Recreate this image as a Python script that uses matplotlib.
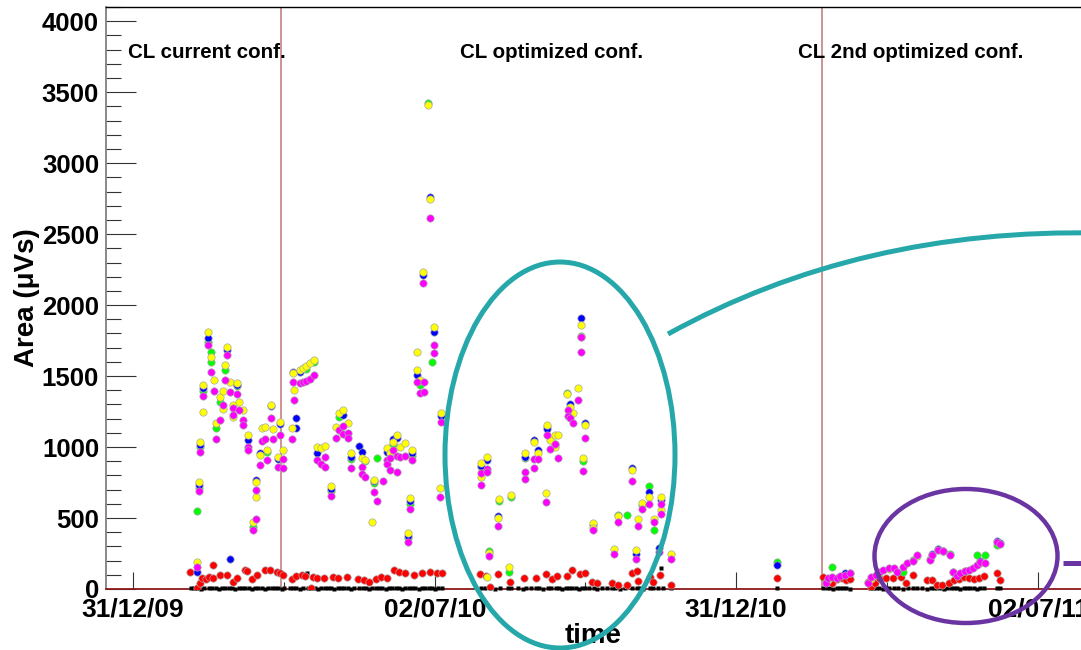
import matplotlib

matplotlib.use("Agg")

import matplotlib.pyplot as plt
from matplotlib.patches import Ellipse, PathPatch
from matplotlib.path import Path
from matplotlib.ticker import FixedLocator, MultipleLocator
from matplotlib.transforms import Affine2D

W_PX, H_PX, DPI = 1081, 650, 100

# time axis: days after 31/12/09
TICK_DAYS = [0, 183, 365, 548]
TICK_LABELS = ["31/12/09", "02/07/10", "31/12/10", "02/07/11"]
MINOR_TICK_DAYS = [91.5, 274, 456.5]
CONF_CHANGE_DAYS = [89.6, 417.1]
CONF_LABELS = ["CL current conf.", "CL optimized conf.", "CL 2nd optimized conf."]

# (day, area in uVs)
YELLOW = [
    (38.7, 190), (39.9, 754), (40.6, 1035), (42.5, 1437), (42.5, 1247), (45.4, 1810),
    (47.2, 1634), (48.8, 1472), (50.2, 1169), (52.7, 1352), (54.5, 1394), (54.5, 1268),
    (55.7, 1577), (56.9, 1704), (58.7, 1458), (60.5, 1296), (60.5, 1211), (63.0, 1451),
    (64.2, 1317), (66.6, 1261), (69.6, 1085), (72.6, 472), (74.5, 754), (74.5, 648),
    (76.9, 944), (78.1, 1134), (80.0, 1140), (81.1, 979), (83.5, 1296), (84.7, 1127),
    (87.8, 930), (89.0, 1176), (90.8, 979),
    (96.2, 1134), (97.0, 1521), (97.5, 1401), (101.0, 1542), (103.0, 1556), (105.0, 1570),
    (107.0, 1590), (109.5, 1612), (111.5, 1000), (114.0, 993), (116.5, 1007), (119.9, 725),
    (123.0, 1141), (125.0, 1240), (127.0, 1260), (130.0, 1169), (132.0, 958), (138.6, 923),
    (140.4, 908), (144.5, 472), (146.0, 770), (153.8, 993), (155.6, 960), (157.4, 1035),
    (159.8, 1085), (161.6, 1000), (164.6, 1028), (166.5, 394), (167.7, 641), (168.9, 979),
    (171.9, 1669), (171.9, 1542), (173.7, 1472), (175.5, 2232), (178.6, 3408), (179.8, 2746),
    (182.2, 1845), (185.8, 711), (186.4, 1239),
    (210.7, 887), (210.7, 789), (214.3, 930), (214.3, 85), (215.5, 254), (220.9, 500),
    (221.5, 634), (228.8, 662), (227.6, 155), (237.3, 958), (242.7, 1035), (245.2, 958),
    (250.0, 676), (250.6, 1155), (252.4, 1049), (255.4, 1085), (255.4, 1000), (257.3, 1085),
    (262.7, 1373), (264.5, 1282), (266.3, 1239), (269.4, 1415), (271.2, 1859), (271.2, 1775),
    (272.4, 923), (273.6, 1155), (278.5, 465), (278.5, 430), (291.2, 282), (293.6, 514),
    (302.1, 838), (304.5, 275), (305.7, 493), (308.1, 606), (312.3, 648), (315.4, 493),
    (319.6, 648), (319.6, 560), (325.7, 246),
    (421.0, 60), (447.0, 70), (452.0, 110), (458.0, 140), (474.6, 230), (482.4, 210),
    (490.3, 270), (504.0, 130), (513.0, 180),
]

BLUE = [
    (38.7, 120), (39.9, 732), (40.6, 1015), (42.5, 1413), (45.4, 1770), (56.9, 1683),
    (58.7, 211), (63.0, 1437), (69.6, 1050), (74.5, 770), (76.9, 955), (83.5, 1290),
    (87.8, 915), (89.0, 1165),
    (97.0, 1530), (98.5, 1204), (98.5, 1134), (101.0, 1530), (111.5, 958), (119.9, 705),
    (127.0, 1225), (132.0, 930), (136.8, 1007), (138.6, 965), (146.0, 760), (153.8, 965),
    (157.4, 1060), (159.8, 1063), (166.5, 370), (167.7, 620), (168.9, 958), (171.9, 1510),
    (175.5, 2211), (179.8, 2760), (182.2, 1810), (186.4, 1220),
    (210.7, 870), (214.3, 910), (220.9, 514), (237.3, 930), (242.7, 1049), (245.2, 980),
    (250.6, 1130), (264.5, 1300), (271.2, 1908), (273.6, 1170), (278.5, 450), (302.1, 855),
    (304.5, 250), (312.3, 683), (318.4, 289), (319.6, 630),
    (389.8, 169), (419.5, 50), (431.0, 110), (484.0, 250), (487.3, 285), (490.3, 270),
    (513.0, 200), (523.0, 335), (524.8, 325),
]

GREEN = [
    (38.7, 549), (39.9, 711), (40.6, 1000), (42.5, 1394), (45.4, 1740), (47.2, 1669),
    (47.2, 1599), (50.2, 1134), (52.7, 1320), (55.7, 1542), (63.0, 1430), (72.6, 437),
    (81.1, 965),
    (105.0, 1550), (109.5, 1598), (119.9, 690), (125.0, 1210), (132.0, 915), (140.4, 900),
    (146.0, 750), (147.7, 923), (157.4, 1020), (166.5, 360), (167.7, 600), (168.9, 940),
    (173.7, 1440), (178.6, 3422), (181.0, 1599),
    (210.7, 860), (215.5, 270), (221.5, 620), (227.6, 120), (228.8, 650), (237.3, 920),
    (250.6, 1140), (255.4, 1020), (262.7, 1380), (271.2, 1780), (272.4, 905), (293.6, 520),
    (299.0, 521), (308.1, 590), (312.3, 725), (315.4, 415),
    (389.8, 190), (423.0, 155), (434.0, 115), (466.0, 120), (472.0, 204), (487.3, 280),
    (494.6, 245), (496.4, 120), (511.0, 239), (515.7, 239), (523.0, 310),
]

MAGENTA = [
    (38.7, 155), (39.9, 690), (40.6, 965), (42.5, 1359), (45.4, 1718), (47.2, 1528),
    (48.8, 1394), (50.2, 1056), (52.7, 1190), (54.5, 1296), (55.7, 1472), (56.9, 1648),
    (58.7, 1387), (60.5, 1275), (60.5, 1225), (63.0, 1373), (64.2, 1261), (66.6, 1190),
    (66.6, 1155), (69.6, 1000), (69.6, 979), (72.6, 415), (74.5, 697), (74.5, 493),
    (76.9, 873), (78.1, 1042), (80.0, 1060), (81.1, 908), (83.5, 1204), (84.7, 1056),
    (87.8, 859), (89.0, 1085), (90.8, 915), (90.8, 852),
    (96.2, 1056), (97.0, 1458), (97.5, 1331), (101.0, 1451), (103.0, 1458), (105.0, 1465),
    (107.0, 1480), (109.5, 1507), (111.5, 908), (114.0, 880), (116.5, 930), (116.5, 859),
    (119.9, 655), (123.0, 1063), (125.0, 1120), (127.0, 1150), (127.0, 1090), (130.0, 1099),
    (130.0, 1063), (132.0, 852), (138.6, 859), (138.6, 810), (140.4, 789), (146.0, 683),
    (147.7, 620), (151.3, 761), (153.8, 908), (153.8, 880), (155.6, 920), (155.6, 838),
    (157.4, 979), (159.8, 940), (159.8, 824), (161.6, 930), (164.6, 937), (166.5, 331),
    (167.7, 563), (168.9, 908), (171.9, 1458), (173.7, 1380), (175.5, 2155), (176.0, 1458),
    (176.0, 1387), (179.8, 2613), (182.2, 1718), (182.2, 1662), (185.8, 648), (186.4, 1176),
    (210.7, 817), (210.7, 732), (214.3, 845), (214.3, 824), (215.5, 232), (220.9, 444),
    (237.3, 824), (237.3, 775), (242.7, 915), (242.7, 852), (245.2, 915), (250.0, 613),
    (250.6, 1085), (252.4, 986), (255.4, 1021), (257.3, 923), (263.3, 1261), (263.3, 1220),
    (264.5, 1204), (266.3, 1169), (269.4, 1331), (271.2, 1775), (271.2, 1669), (272.4, 831),
    (273.6, 1063), (278.5, 415), (291.2, 246), (293.6, 472), (302.1, 761), (304.5, 211),
    (305.7, 444), (308.1, 563), (312.3, 599), (315.4, 470), (318.4, 260), (319.6, 599),
    (319.6, 530), (325.7, 211),
    (419.5, 40), (421.0, 75), (423.0, 85), (426.0, 77), (428.0, 95), (431.0, 100),
    (434.0, 113), (445.0, 40), (447.0, 85), (450.0, 100), (452.0, 120), (454.0, 134),
    (458.0, 150), (461.0, 148), (462.5, 120), (466.0, 155), (468.5, 183), (472.0, 200),
    (474.6, 239), (482.4, 204), (484.0, 240), (487.3, 275), (490.3, 265), (494.6, 239),
    (496.4, 120), (499.0, 95), (501.0, 110), (503.6, 125), (506.0, 135), (508.5, 148),
    (511.0, 170), (513.0, 190), (515.7, 185), (523.0, 331), (524.8, 320),
]

RED = [
    (34.5, 120), (38.7, 7), (40.6, 42), (42.0, 77), (44.0, 70), (46.0, 84), (48.4, 169),
    (48.4, 77), (52.7, 99), (56.9, 99), (60.5, 49), (63.0, 77), (67.8, 134), (69.0, 125),
    (72.0, 70), (75.0, 99), (79.9, 134), (83.0, 134), (87.2, 120), (89.0, 113), (90.8, 99),
    (96.2, 70), (99.0, 91), (102.3, 99), (104.0, 95), (108.0, 7), (109.0, 84), (111.4, 80),
    (115.6, 77), (121.0, 84), (124.0, 80), (129.7, 84), (136.0, 70), (140.0, 63), (143.0, 49),
    (147.0, 70), (150.0, 84), (154.0, 77), (158.0, 134), (161.0, 120), (165.0, 110),
    (170.0, 100), (175.0, 113), (180.0, 120), (184.0, 113), (187.0, 113),
    (210.0, 106), (214.0, 92), (216.0, 14), (221.0, 106), (228.0, 49), (237.0, 77),
    (244.0, 77), (250.0, 106), (254.0, 70), (257.0, 92), (262.7, 92), (265.6, 134),
    (270.6, 106), (273.6, 110), (277.9, 49), (281.0, 42), (290.0, 42), (293.6, 28),
    (299.0, 28), (302.0, 113), (305.0, 127), (305.7, 56), (313.0, 84), (315.0, 49),
    (319.0, 99), (325.7, 28),
    (389.8, 77), (418.0, 85), (420.0, 55), (423.0, 42), (426.0, 70), (429.0, 75), (432.0, 60),
    (434.0, 70), (445.0, 49), (447.0, 14), (449.0, 40), (452.0, 77), (456.0, 77), (460.0, 77),
    (465.0, 84), (468.0, 42), (472.0, 99), (481.0, 63), (484.0, 63), (487.0, 28), (490.0, 28),
    (494.0, 42), (497.0, 63), (500.0, 70), (503.0, 85), (506.0, 75), (509.0, 70), (512.0, 80),
    (515.0, 95), (523.0, 113), (525.0, 63),
]

BLACK = [
    (35, 5), (37, 4), (39, 6), (41, 3), (43, 5), (46, 4), (48, 6), (50, 5), (52, 3), (54, 5),
    (56, 6), (58, 4), (60, 5), (62, 3), (64, 6), (66, 4), (68, 5), (70, 5), (72, 3), (74, 6),
    (76, 4), (78, 5), (80, 3), (82, 5), (84, 6), (86, 4), (88, 5), (90, 3), (91.5, 6),
    (95, 5), (97, 4), (99, 6), (101, 3), (103, 5), (105.3, 113), (106, 4), (108, 5), (110, 6),
    (112, 3), (114, 5), (116, 4), (118, 6), (120, 5), (122, 3), (124, 5), (126, 4), (128, 6),
    (130, 5), (132, 3), (134, 5), (137, 4), (139, 6), (141, 5), (143, 3), (145, 5), (147, 4),
    (149, 6), (151, 5), (153, 3), (155, 5), (157, 4), (159, 6), (161, 5), (163, 3), (165, 5),
    (167, 4), (169, 6), (171, 5), (173, 3), (175, 5), (177, 4), (179, 6), (181, 5), (183, 3),
    (185, 5), (187, 4),
    (211, 5), (213, 4), (216, 6), (219, 3), (222, 5), (227, 4), (229, 6), (233, 5), (236, 3),
    (238, 5), (241, 4), (244, 6), (246, 5), (248, 3), (251, 5), (253, 4), (256, 6), (258, 5),
    (260, 3), (262, 5), (264, 4), (266, 6), (268, 5), (270, 3), (272, 5), (274, 4), (276, 6),
    (279, 5), (281, 3), (284, 5), (287, 4), (290, 6), (292, 5), (295, 3), (298, 5), (302, 4),
    (305, 6), (307, 5), (309, 3), (313, 5), (315, 4), (318, 6), (320, 148), (321, 5), (326, 4),
    (390, 5), (418, 5), (420, 4), (422, 6), (424, 3), (426, 5), (428, 4), (430, 6), (432, 5),
    (434, 3), (446, 5), (448, 4), (450, 6), (452, 5), (454, 3), (456, 5), (458, 4), (461, 6),
    (463, 5), (466, 3), (469, 5), (472, 4), (475, 6), (478, 5), (481, 3), (483, 5), (485, 4),
    (487, 6), (489, 5), (491, 3), (493, 5), (495, 4), (497, 6), (499, 5), (501, 3), (503, 5),
    (505, 4), (507, 6), (509, 5), (511, 3), (513, 5), (515, 4), (523, 6), (525, 5),
]

TEAL = "#26a8aa"
PURPLE = "#6a34a2"
CONF_LINE = "#c07575"

plt.rcParams["font.family"] = ["Liberation Sans", "DejaVu Sans"]
plt.rcParams["font.weight"] = "bold"

fig = plt.figure(figsize=(W_PX / DPI, H_PX / DPI), dpi=DPI, facecolor="white")
# helper transform: pixel coordinates measured from the top-left corner
px = Affine2D().scale(1 / W_PX, -1 / H_PX).translate(0, 1) + fig.transFigure

ax = fig.add_axes([106 / W_PX, 1 - 589 / H_PX, (W_PX - 106) / W_PX, 582 / H_PX])
ax.set_xlim(-16.3, 574)
ax.set_ylim(0, 4100)

for day in CONF_CHANGE_DAYS:
    ax.axvline(day, color=CONF_LINE, lw=1.1, zorder=1)

ax.plot(*zip(*BLACK), ls="none", marker="s", ms=2.8, mfc="black", mec="none", zorder=3, clip_on=False)
for pts, col in ((RED, "#ff0000"), (GREEN, "#00ff00"), (BLUE, "#0000ff"),
                 (YELLOW, "#ffff00"), (MAGENTA, "#ff00ff")):
    ax.plot(*zip(*pts), ls="none", marker="o", ms=5.3, mfc=col, mec="#a8a8a8",
            mew=0.5, zorder=4)

ax.spines["right"].set_visible(False)
ax.spines["top"].set_color("black")
ax.spines["top"].set_linewidth(1.0)
ax.spines["left"].set_color("#808080")
ax.spines["left"].set_linewidth(1.3)
ax.spines["bottom"].set_color("#8b1a1a")
ax.spines["bottom"].set_linewidth(1.3)

ax.yaxis.set_major_locator(MultipleLocator(500))
ax.yaxis.set_minor_locator(MultipleLocator(100))
ax.tick_params(axis="y", which="major", direction="in", length=21.6, width=0.8,
               color="#333333", pad=5, labelsize=18.5)
ax.tick_params(axis="y", which="minor", direction="in", length=10.8, width=0.8,
               color="#333333")

ax.xaxis.set_major_locator(FixedLocator(TICK_DAYS))
ax.xaxis.set_minor_locator(FixedLocator(MINOR_TICK_DAYS))
ax.set_xticklabels(TICK_LABELS)
ax.tick_params(axis="x", which="major", direction="in", length=12, width=0.8,
               color="#333333", pad=6, labelsize=19)
ax.tick_params(axis="x", which="minor", direction="in", length=5, width=0.8,
               color="#333333")

fig.text(27, 298, "Area (μVs)", transform=px, rotation=90, ha="center", va="center",
         fontsize=20, fontweight="bold")
fig.text(593, 636, "time", transform=px, ha="center", va="center",
         fontsize=20, fontweight="bold")
for x0, lbl in zip((128, 460, 798), CONF_LABELS):
    fig.text(x0, 53, lbl, transform=px, ha="left", va="center",
             fontsize=14.8, fontweight="bold")

# highlight annotations drawn over the figure
fig.add_artist(Ellipse((560, 455), 230, 386, transform=px, fill=False,
                       ec=TEAL, lw=3.6, zorder=10))
teal_path = Path([(668, 334), (860, 228), (1100, 233)],
                 [Path.MOVETO, Path.CURVE3, Path.CURVE3])
fig.add_artist(PathPatch(teal_path, transform=px, fill=False, ec=TEAL, lw=3.6,
                         capstyle="butt", zorder=10))
fig.add_artist(Ellipse((966, 556), 183, 134, transform=px, fill=False,
                       ec=PURPLE, lw=3.2, zorder=10))
fig.add_artist(plt.Line2D([1063, 1090], [563, 563], transform=px, color=PURPLE,
                          lw=3.6, solid_capstyle="butt", zorder=10))

fig.savefig("out.png", dpi=DPI, facecolor="white")
